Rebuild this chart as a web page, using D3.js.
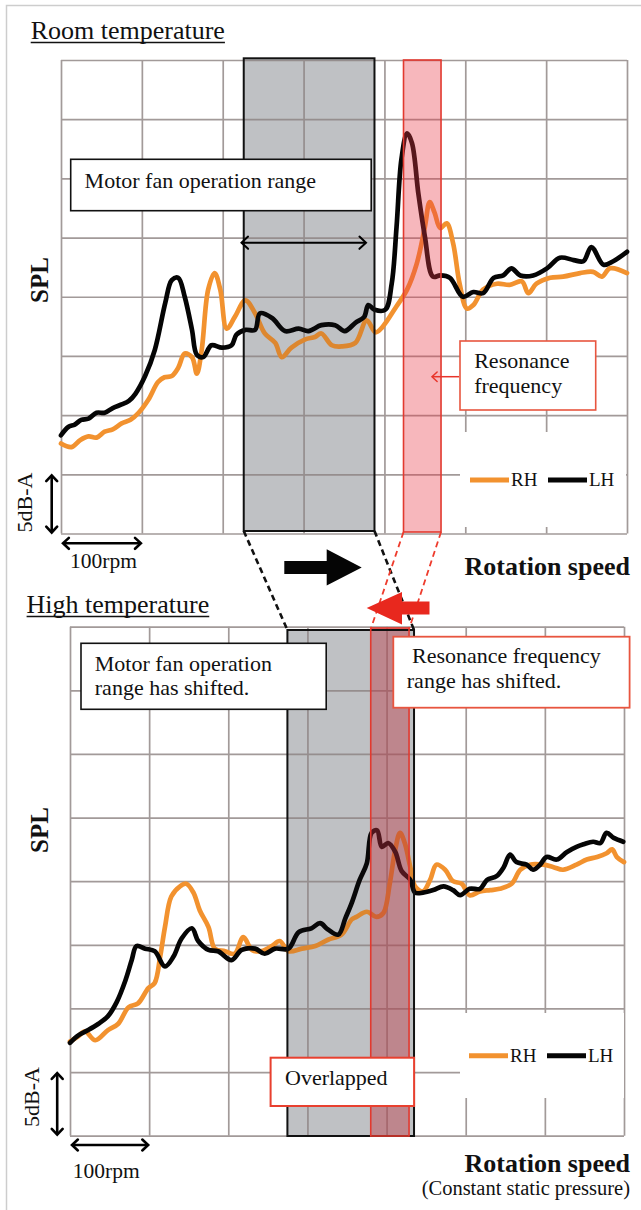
<!DOCTYPE html>
<html>
<head>
<meta charset="utf-8">
<script src="https://cdn.jsdelivr.net/npm/d3@7"></script>
<style>
  html, body { margin: 0; padding: 0; background: #fff; }
  svg { display: block; }
  text { font-family: "Liberation Serif", "Times New Roman", serif; fill: #111; }
</style>
</head>
<body>
<svg id="fig" width="641" height="1210"></svg>
<script>
// Axis grid: one column = 100 rpm, one row = 5 dB(A)
const rpmTicks = [0, 100, 200, 300, 400, 500, 600, 700];
const splTicks = [0, 5, 10, 15, 20, 25, 30, 35, 40];

const seriesNames = ["RH", "LH"];
const seriesColors = ["#f2922f", "#050505"];

// Room temperature, SPL [rpm offset, dB(A) above grid floor]
const roomRH = [[0,7.6],[13,7.3],[24,7.9],[34,8.2],[44,8.1],[54,8.6],[64,8.8],[75,9.3],[86,9.6],[96,10.2],[108,11.3],[120,12.8],[128,13.2],[137,13.3],[145,14.0],[153,15.2],[162,14.9],[168,13.5],[174,15.5],[182,20.6],[190,22.0],[197,20.6],[205,17.3],[215,18.3],[228,19.7],[240,18.6],[252,16.9],[265,16.1],[273,14.9],[285,15.7],[302,16.4],[314,16.6],[322,16.9],[335,15.9],[347,15.8],[364,16.1],[378,18.0],[389,17.0],[397,17.4],[415,19.2],[428,20.6],[440,22.8],[450,25.9],[456,28.0],[462,27.1],[469,25.8],[477,26.2],[485,24.5],[493,21.1],[502,19.0],[510,19.3],[522,20.6],[539,21.1],[555,21.0],[570,21.3],[578,20.3],[588,21.1],[605,21.6],[621,21.7],[642,22.0],[658,22.1],[669,21.7],[679,22.4],[700,22.0]];
const roomLH = [[0,8.3],[9,9.0],[17,9.2],[25,9.6],[34,9.7],[44,10.2],[54,10.2],[64,10.6],[75,10.9],[84,11.2],[92,11.8],[104,13.3],[116,15.5],[129,19.5],[137,21.4],[145,21.6],[153,20.0],[162,17.2],[168,15.1],[176,14.9],[186,15.9],[199,15.7],[211,15.9],[217,16.8],[228,17.2],[240,17.2],[246,18.6],[261,18.2],[277,17.1],[294,17.3],[306,17.1],[322,17.6],[339,17.6],[351,17.1],[364,17.8],[375,18.3],[380,19.3],[388,18.9],[401,18.9],[409,21.1],[415,25.9],[421,31.6],[428,33.8],[434,33.0],[442,28.7],[450,25.1],[460,21.7],[469,21.8],[481,21.6],[497,20.0],[510,20.4],[522,20.3],[535,21.6],[547,21.8],[557,22.4],[568,21.8],[584,21.8],[601,22.4],[617,23.3],[634,23.1],[646,23.0],[656,24.2],[671,22.7],[683,23.0],[700,23.8]];

// High temperature
const highRH = [[0,7.4],[10,7.8],[19,8.2],[32,7.5],[48,8.3],[61,8.8],[74,10.1],[86,10.4],[99,11.6],[107,12.0],[114,14.1],[120,16.4],[128,18.8],[139,19.6],[147,19.8],[156,19.1],[164,17.7],[175,16.4],[183,14.7],[196,14.5],[208,14.3],[219,15.6],[230,14.6],[242,14.5],[255,14.9],[265,15.3],[276,14.5],[293,14.7],[310,14.9],[326,15.4],[343,15.8],[356,17.0],[362,17.2],[375,17.6],[387,17.2],[396,17.5],[404,19.8],[411,22.5],[417,23.8],[423,23.0],[430,21.1],[436,19.6],[446,19.2],[455,20.1],[463,21.3],[474,20.9],[484,20.0],[495,19.8],[505,18.9],[518,19.2],[531,19.3],[543,19.4],[558,19.8],[569,20.9],[581,21.3],[598,21.3],[611,21.1],[623,20.9],[640,21.3],[653,21.7],[666,21.9],[678,22.2],[685,22.5],[691,21.9],[700,21.5]];
const highLH = [[0,7.3],[11,7.9],[23,8.3],[36,8.8],[48,9.4],[59,10.5],[70,12.2],[78,13.8],[84,14.9],[95,14.7],[107,14.5],[120,13.3],[131,14.1],[141,15.5],[154,16.3],[162,15.3],[175,14.6],[187,14.5],[204,13.8],[217,14.6],[234,14.7],[246,14.3],[259,14.7],[276,14.7],[289,16.0],[305,16.3],[316,16.7],[326,16.2],[339,15.8],[348,17.1],[356,18.3],[366,20.1],[375,21.4],[381,23.8],[388,24.0],[394,22.7],[402,23.0],[411,22.3],[419,20.8],[430,20.1],[436,19.1],[446,19.1],[459,19.3],[472,19.6],[484,19.3],[493,18.9],[505,19.4],[518,19.4],[527,20.1],[539,20.4],[548,21.1],[556,22.1],[564,21.5],[577,21.3],[585,20.9],[594,21.3],[602,21.9],[615,21.7],[628,22.3],[640,22.7],[649,22.9],[661,23.1],[670,23.0],[678,23.8],[687,23.4],[699,23.1]];

// Motor fan operation range and resonance band, rpm offsets
const roomFanRange = [226, 387.7];
const roomResonance = [423.6, 470];
const highFanRange = [274.7, 434.7];
const highResonance = [380, 428.4];

const SERIF = "Liberation Serif, Times New Roman, serif";
const svg = d3.select("#fig");

// outer frame of the figure
svg.append("path").attr("d", "M6.5,1210 V5.5 H641")
  .attr("fill", "none").attr("stroke", "#cdcdcd").attr("stroke-width", 1.5);

function label(g, x, y, t, size, opts = {}) {
  const el = g.append("text").attr("x", x).attr("y", y)
    .attr("font-family", SERIF).attr("font-size", size).attr("fill", "#111").text(t);
  if (opts.bold) el.attr("font-weight", "bold");
  if (opts.anchor) el.attr("text-anchor", opts.anchor);
  if (opts.transform) el.attr("transform", opts.transform).attr("x", 0).attr("y", 0);
  return el;
}
function chevron(g, x, y, ang, size, color, w) {
  // open arrow head pointing in direction ang (radians)
  const a1 = ang + Math.PI - 0.75, a2 = ang + Math.PI + 0.75;
  g.append("path")
    .attr("d", `M${x + size * Math.cos(a1)},${y + size * Math.sin(a1)} L${x},${y} L${x + size * Math.cos(a2)},${y + size * Math.sin(a2)}`)
    .attr("fill", "none").attr("stroke", color).attr("stroke-width", w)
    .attr("stroke-linejoin", "miter").attr("stroke-linecap", "round");
}
function doubleArrow(g, x1, y1, x2, y2, w, size) {
  g.append("line").attr("x1", x1).attr("y1", y1).attr("x2", x2).attr("y2", y2)
    .attr("stroke", "#000").attr("stroke-width", w);
  const ang = Math.atan2(y2 - y1, x2 - x1);
  chevron(g, x2, y2, ang, size, "#000", w);
  chevron(g, x1, y1, ang + Math.PI, size, "#000", w);
}
function textBox(g, b) {
  g.append("rect").attr("x", b.x).attr("y", b.y).attr("width", b.w).attr("height", b.h)
    .attr("fill", "#fff").attr("stroke", b.stroke).attr("stroke-width", b.sw || 1.6);
  b.lines.forEach(l => label(g, l.x, l.y, l.t, b.size || 22));
}

function panel(o) {
  const x = d3.scaleLinear().domain([0, 700]).range([o.left, o.right]);
  const y = d3.scaleLinear().domain([0, 40]).range([o.bottom, o.top]);
  const g = svg.append("g");

  // operation range shading (under the grid)
  const fx0 = x(o.fan[0]), fx1 = x(o.fan[1]);
  g.append("rect").attr("x", fx0).attr("y", o.fanTop)
    .attr("width", fx1 - fx0).attr("height", o.fanBottom - o.fanTop)
    .attr("fill", "#d1d3d5");

  // grid drawn with axes
  const gx = g.append("g").attr("transform", `translate(0,${o.bottom})`)
    .call(d3.axisBottom(x).tickValues(rpmTicks).tickSize(-(o.bottom - o.top)).tickFormat(""));
  const gy = g.append("g").attr("transform", `translate(${o.left},0)`)
    .call(d3.axisLeft(y).tickValues(splTicks).tickSize(-(o.right - o.left)).tickFormat(""));
  [gx, gy].forEach(a => {
    a.select(".domain").remove();
    a.selectAll("line").attr("stroke", "#a29a99").attr("stroke-width", 1.7);
  });

  // legend backdrop
  const L = o.legend;
  g.append("rect").attr("x", L.bx).attr("y", L.by).attr("width", L.bw).attr("height", L.bh).attr("fill", "#fff");

  // curves
  const line = d3.line().x(d => x(d[0])).y(d => y(d[1])).curve(d3.curveCatmullRom.alpha(0.5));
  [o.rh, o.lh].forEach((s, i) => {
    g.append("path").datum(s).attr("d", line)
      .attr("fill", "none").attr("stroke", seriesColors[i]).attr("stroke-width", 4.7)
      .attr("stroke-linejoin", "round").attr("stroke-linecap", "round");
  });

  // tint over the curves
  g.append("rect").attr("x", fx0).attr("y", o.fanTop)
    .attr("width", fx1 - fx0).attr("height", o.fanBottom - o.fanTop)
    .attr("fill", "rgb(40,44,50)").attr("fill-opacity", 0.1);
  const rx0 = x(o.res[0]), rx1 = x(o.res[1]);
  g.append("rect").attr("x", rx0).attr("y", o.resTop)
    .attr("width", rx1 - rx0).attr("height", o.resBottom - o.resTop)
    .attr("fill", o.resFill).attr("fill-opacity", o.resAlpha);

  // outlines
  g.append("rect").attr("x", fx0).attr("y", o.fanTop)
    .attr("width", fx1 - fx0).attr("height", o.fanBottom - o.fanTop)
    .attr("fill", "none").attr("stroke", "#111").attr("stroke-width", 2);
  g.append("rect").attr("x", rx0).attr("y", o.resTop)
    .attr("width", rx1 - rx0).attr("height", o.resBottom - o.resTop)
    .attr("fill", "none").attr("stroke", "#e2392f").attr("stroke-width", 1.6);

  // annotation boxes
  o.boxes.forEach(b => textBox(g, b));

  // legend
  seriesNames.forEach((n, i) => {
    const lx = L.x + i * L.step;
    g.append("line").attr("x1", lx).attr("x2", lx + 39).attr("y1", L.y).attr("y2", L.y)
      .attr("stroke", seriesColors[i]).attr("stroke-width", 5);
    label(g, lx + 41, L.y + 6.3, n, 19);
  });

  // scale keys
  const K = o.keys;
  label(g, 0, 0, "SPL", 25, { bold: true, anchor: "middle", transform: `translate(${K.splX},${K.splY}) rotate(-90)` });
  label(g, 0, 0, "5dB-A", 22, { anchor: "middle", transform: `translate(${K.dbX},${K.dbY}) rotate(-90)` });
  doubleArrow(g, K.vArrowX, y(5) + 1, K.vArrowX, y(0) - 1, 2.6, 8);
  doubleArrow(g, x(0) + 2, K.hArrowY, x(100) - 1, K.hArrowY, 2.6, 8);
  label(g, K.rpmX, K.rpmY, "100rpm", 21.5);
  label(g, 630, K.rotY, "Rotation speed", 26, { bold: true, anchor: "end" });

  return { x, y, g };
}

function title(t, tx, ty) {
  const el = label(svg, tx, ty, t, 26);
  const w = el.node().getComputedTextLength();
  svg.append("line").attr("x1", tx).attr("x2", tx + w).attr("y1", ty + 3.2).attr("y2", ty + 3.2)
    .attr("stroke", "#111").attr("stroke-width", 1.4);
}

// ---- Room temperature ----
title("Room temperature", 30.7, 39.3);
const roomPanel = panel({
  left: 61, right: 627, top: 60, bottom: 533.5,
  rh: roomRH, lh: roomLH, fan: roomFanRange, res: roomResonance,
  fanTop: 58.3, fanBottom: 531, resTop: 60, resBottom: 532,
  resFill: "rgb(232,56,70)", resAlpha: 0.36,
  legend: { bx: 460, by: 432, bw: 166, bh: 95, x: 470, y: 480, step: 78 },
  keys: { splX: 48, splY: 280, dbX: 32, dbY: 502.5, vArrowX: 51.7, hArrowY: 543.3, rpmX: 70, rpmY: 568, rotY: 575 },
  boxes: [
    { x: 70.7, y: 159.3, w: 300.5, h: 51.4, stroke: "#111", lines: [{ x: 84.6, y: 188, t: "Motor fan operation range" }] },
    { x: 460, y: 341, w: 135.7, h: 69, stroke: "#e8553f", lines: [{ x: 474.2, y: 368.3, t: "Resonance" }, { x: 474.2, y: 393.3, t: "frequency" }] }
  ]
});
// span of the operation range
doubleArrow(roomPanel.g, 241.5, 242.7, 366, 242.7, 2, 9);
// pointer from the resonance note to the band
roomPanel.g.append("line").attr("x1", 459).attr("x2", 432).attr("y1", 376.7).attr("y2", 376.7)
  .attr("stroke", "#e8352b").attr("stroke-width", 1.5);
chevron(roomPanel.g, 432, 376.7, Math.PI, 7, "#e8352b", 1.5);

// ---- High temperature ----
title("High temperature", 26.6, 613.3);
const highPanel = panel({
  left: 70, right: 624, top: 626.7, bottom: 1135.7,
  rh: highRH, lh: highLH, fan: highFanRange, res: highResonance,
  fanTop: 630, fanBottom: 1136, resTop: 628, resBottom: 1136,
  resFill: "rgb(190,45,60)", resAlpha: 0.4,
  legend: { bx: 460, by: 1013, bw: 164, bh: 85, x: 469, y: 1055.7, step: 78 },
  keys: { splX: 47.5, splY: 830, dbX: 38.5, dbY: 1097, vArrowX: 57.2, hArrowY: 1145, rpmX: 72.8, rpmY: 1178, rotY: 1172 },
  boxes: [
    { x: 81, y: 643.3, w: 245.2, h: 66, stroke: "#111", lines: [{ x: 94.8, y: 670.7, t: "Motor fan operation" }, { x: 94.8, y: 695, t: "range has shifted." }] },
    { x: 393.3, y: 636.7, w: 236.3, h: 71, stroke: "#e8553f", sw: 1.8, lines: [{ x: 412, y: 663.3, t: "Resonance frequency" }, { x: 406.8, y: 688.3, t: "range has shifted." }] },
    { x: 270.6, y: 1057.7, w: 143.5, h: 48.3, stroke: "#e8402f", sw: 2, lines: [{ x: 285, y: 1085, t: "Overlapped" }] }
  ]
});
label(svg, 630, 1195, "(Constant static pressure)", 20.5, { anchor: "end" });

// ---- shift between the two conditions ----
const link = svg.append("g");
[[roomFanRange[0], highFanRange[0]], [roomFanRange[1], highFanRange[1]]].forEach(([a, b]) => {
  link.append("line").attr("x1", roomPanel.x(a)).attr("y1", 531).attr("x2", highPanel.x(b)).attr("y2", 630)
    .attr("stroke", "#111").attr("stroke-width", 2.6).attr("stroke-dasharray", "6,4");
});
[[roomResonance[0], highResonance[0]], [roomResonance[1], highResonance[1]]].forEach(([a, b]) => {
  link.append("line").attr("x1", roomPanel.x(a)).attr("y1", 532).attr("x2", highPanel.x(b)).attr("y2", 629)
    .attr("stroke", "#ee3b2c").attr("stroke-width", 1.8).attr("stroke-dasharray", "6,4");
});
// fan range moved up in speed
link.append("path")
  .attr("d", "M284.3,561 L326.7,561 L326.7,549.3 L361.7,567.5 L326.7,585.5 L326.7,574 L284.3,574 Z")
  .attr("fill", "#050505");
// resonance moved down in speed
link.append("path")
  .attr("d", "M429.5,601.5 L402,601.5 L402,592 L366.7,608 L402,624.5 L402,614.5 L429.5,614.5 Z")
  .attr("fill", "#e8281e");
</script>
</body>
</html>
